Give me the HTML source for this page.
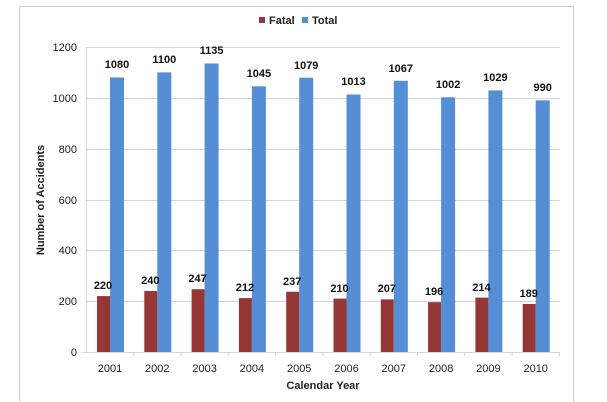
<!DOCTYPE html>
<html><head><style>body{margin:0;background:#fff}svg{display:block}text{font-family:"Liberation Sans",sans-serif}</style></head><body>
<svg width="607" height="402" xmlns="http://www.w3.org/2000/svg">
<rect x="19.5" y="6.5" width="554" height="400" fill="none" stroke="#d0d0d0"/>
<g stroke="#d4d4d4" stroke-width="1">
<line x1="87" x2="560" y1="47.5" y2="47.5"/><line x1="87" x2="560" y1="98.5" y2="98.5"/>
<line x1="87" x2="560" y1="149.5" y2="149.5"/><line x1="87" x2="560" y1="200.5" y2="200.5"/>
<line x1="87" x2="560" y1="250.5" y2="250.5"/><line x1="87" x2="560" y1="301.5" y2="301.5"/>
<line x1="86.5" x2="86.5" y1="47" y2="352"/>
<line x1="82" x2="560" y1="352.5" y2="352.5"/>
<line x1="133.65" x2="133.65" y1="352" y2="356"/><line x1="180.95" x2="180.95" y1="352" y2="356"/>
<line x1="228.25" x2="228.25" y1="352" y2="356"/><line x1="275.55" x2="275.55" y1="352" y2="356"/>
<line x1="322.85" x2="322.85" y1="352" y2="356"/><line x1="370.15" x2="370.15" y1="352" y2="356"/>
<line x1="417.45" x2="417.45" y1="352" y2="356"/><line x1="464.75" x2="464.75" y1="352" y2="356"/>
<line x1="512.05" x2="512.05" y1="352" y2="356"/><line x1="559.5" x2="559.5" y1="352" y2="356"/>
</g>
<g font-size="11" fill="#222" text-anchor="end">
<text x="77" y="51">1200</text><text x="77" y="102">1000</text><text x="77" y="153">800</text><text x="77" y="204">600</text><text x="77" y="254">400</text><text x="77" y="305">200</text><text x="77" y="356">0</text>
</g>
<text transform="translate(44,200) rotate(-90)" font-size="11" font-weight="bold" text-anchor="middle" fill="#222">Number of Accidents</text>
<text x="323" y="389" font-size="11" font-weight="bold" text-anchor="middle" fill="#222">Calendar Year</text>
<rect x="259" y="17" width="6" height="6" fill="#953735"/><text x="269" y="24" font-size="11" font-weight="bold" fill="#222">Fatal</text>
<rect x="302" y="17" width="6" height="6" fill="#558ed5"/><text x="312" y="24" font-size="11" font-weight="bold" fill="#222">Total</text>
<g fill="#953735">
<rect x="97" y="296.08" width="13" height="55.92"/>
<rect x="144.3" y="290.99" width="13" height="61.01"/>
<rect x="191.6" y="289.21" width="13" height="62.79"/>
<rect x="238.9" y="298.11" width="13" height="53.89"/>
<rect x="286.2" y="291.75" width="13" height="60.25"/>
<rect x="333.5" y="298.62" width="13" height="53.38"/>
<rect x="380.8" y="299.38" width="13" height="52.62"/>
<rect x="428.1" y="302.18" width="13" height="49.82"/>
<rect x="475.4" y="297.6" width="13" height="54.4"/>
<rect x="522.7" y="303.96" width="13" height="48.04"/>
</g>
<g fill="#558ed5">
<rect x="110" y="77.46" width="14" height="274.54"/>
<rect x="157.3" y="72.38" width="14" height="279.62"/>
<rect x="204.6" y="63.48" width="14" height="288.52"/>
<rect x="251.9" y="86.36" width="14" height="265.64"/>
<rect x="299.2" y="77.72" width="14" height="274.28"/>
<rect x="346.5" y="94.5" width="14" height="257.5"/>
<rect x="393.8" y="80.77" width="14" height="271.23"/>
<rect x="441.1" y="97.29" width="14" height="254.71"/>
<rect x="488.4" y="90.43" width="14" height="261.57"/>
<rect x="535.7" y="100.34" width="14" height="251.66"/>
</g>
<g font-size="11" font-weight="bold" text-anchor="middle" fill="#111">
<text x="103" y="289">220</text><text x="150.3" y="284">240</text><text x="197.6" y="282">247</text><text x="244.9" y="291">212</text><text x="292.2" y="285">237</text><text x="339.5" y="292">210</text><text x="386.8" y="292">207</text><text x="434.1" y="295">196</text><text x="481.4" y="291">214</text><text x="528.7" y="297">189</text>
<text x="117" y="68">1080</text><text x="164.3" y="63">1100</text><text x="211.6" y="54">1135</text><text x="258.9" y="77">1045</text><text x="306.2" y="69">1079</text><text x="353.5" y="85">1013</text><text x="400.8" y="72">1067</text><text x="448.1" y="88">1002</text><text x="495.4" y="81">1029</text><text x="542.7" y="91">990</text>
</g>
<g font-size="11" text-anchor="middle" fill="#222">
<text x="110" y="372">2001</text><text x="157.3" y="372">2002</text><text x="204.6" y="372">2003</text><text x="251.9" y="372">2004</text><text x="299.2" y="372">2005</text><text x="346.5" y="372">2006</text><text x="393.8" y="372">2007</text><text x="441.1" y="372">2008</text><text x="488.4" y="372">2009</text><text x="535.7" y="372">2010</text>
</g>
</svg>
</body></html>
